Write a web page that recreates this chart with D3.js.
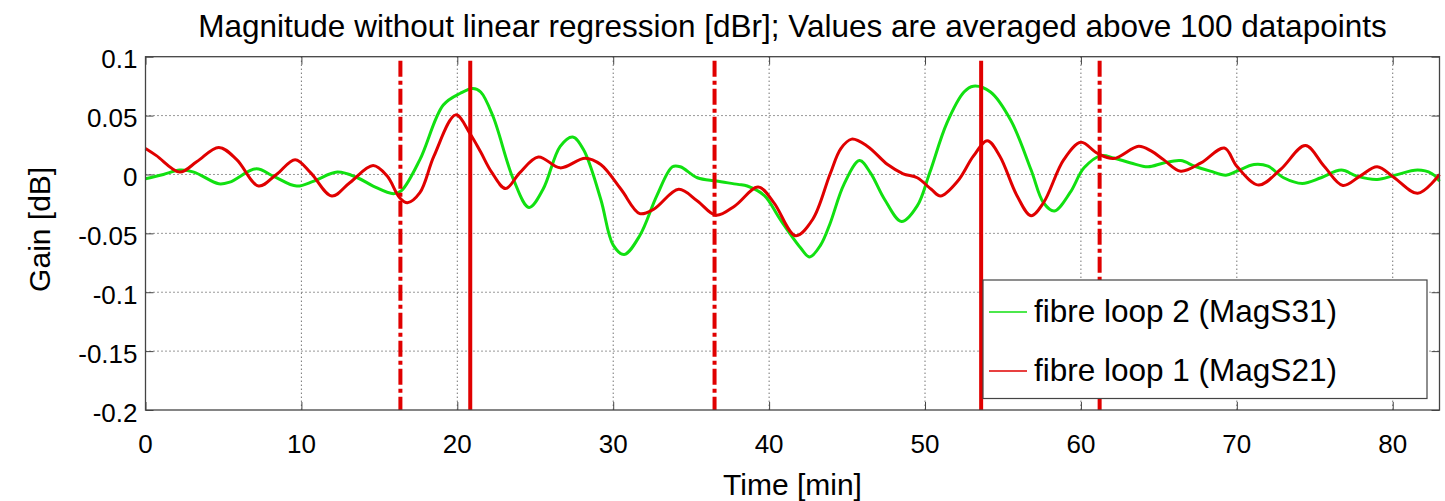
<!DOCTYPE html>
<html>
<head>
<meta charset="utf-8">
<script src="https://cdn.jsdelivr.net/npm/d3@7/dist/d3.min.js"></script>
<style>
body { margin:0; background:#fff; }
text { font-family: 'Liberation Sans', Arial, sans-serif; fill:#000; }
</style>
</head>
<body>
<svg id="chart" width="1445" height="501"></svg>
<script>

// data
var greenTime = [0,1.15,2.2,3.1,4.7,5.4,7.1,8.2,9.7,10.8,12.3,13.6,14.6,15.9,16.4,17.6,19.1,20.2,21.0,21.5,22.3,23.6,24.6,25.5,26.6,27.4,28.1,29.2,30.0,30.7,31.7,32.8,33.8,34.3,35.4,36.6,38.0,38.6,39.7,40.7,42.0,42.6,43.3,43.9,44.8,45.8,46.5,47.4,48.5,49.5,50.3,51.4,52.5,53.1,54.2,55.5,56.8,57.6,58.3,59.3,60.2,61.3,62.1,63.2,64.3,65.3,66.4,67.3,68.3,69.3,70.0,71.1,72.0,73.0,74.2,75.4,76.7,77.7,79.0,80.1,81.6,82.5,83.0];
var greenGain = [-0.0037,0,0.0037,0.002,-0.0079,-0.0065,0.0048,-0.0014,-0.0098,-0.0056,0.002,-0.0028,-0.0098,-0.0163,-0.014,0.0126,0.059,0.069,0.073,0.070,0.049,-0.0042,-0.028,-0.0126,0.0239,0.0318,0.021,-0.021,-0.060,-0.068,-0.052,-0.018,0.0065,0.0065,-0.0028,-0.0056,-0.0084,-0.0098,-0.018,-0.038,-0.062,-0.070,-0.06,-0.042,-0.0084,0.0118,0.0014,-0.021,-0.040,-0.0267,0.0014,0.0436,0.070,0.075,0.070,0.046,0.004,-0.024,-0.031,-0.0155,0.0056,0.016,0.014,0.0098,0.0065,0.0098,0.0118,0.007,0.0028,-0.0006,0.0028,0.0084,0.007,-0.0028,-0.0076,-0.0028,0.0037,-0.0014,-0.0042,-0.0008,0.0037,0.0008,-0.0056];

var redTime = [0,0.7,2.2,3.3,4.7,5.85,7.25,8.4,9.6,10.6,11.95,13.1,14.6,15.5,16.3,16.8,17.6,18.5,19.9,20.8,21.5,22.2,23.1,24.0,25.2,26.6,28.2,29.2,30.5,31.7,32.6,34.2,35.4,36.6,37.8,39.3,40.3,41.7,42.8,43.9,44.6,45.3,46.3,47.6,48.6,49.5,50.4,51.0,52.1,53.1,54.0,54.8,55.9,56.8,57.6,58.9,60.0,61.05,62.1,63.7,64.5,65.3,66.4,67.7,69.2,70.0,71.4,72.8,74.4,75.6,76.8,77.9,79.0,80.1,81.6,83.0];
var redGain = [0.022,0.016,0.002,0.011,0.023,0.0126,-0.0098,0,0.0126,0.0014,-0.0183,-0.007,0.0076,-0.0014,-0.0197,-0.024,-0.0155,0.0155,0.0506,0.035,0.019,0.002,-0.012,0.0014,0.0149,0.0056,0.0138,0.0084,-0.0126,-0.0332,-0.0295,-0.0126,-0.0225,-0.0346,-0.0267,-0.0107,-0.0239,-0.052,-0.038,0,0.022,0.030,0.024,0.0084,0.0006,-0.0028,-0.0126,-0.0183,-0.0056,0.0155,0.0287,0.0155,-0.018,-0.035,-0.024,0.0126,0.0273,0.018,0.0135,0.024,0.02,0.0126,0.0028,0.0098,0.0225,0.007,-0.009,0.0042,0.0245,0.007,-0.0093,-0.0014,0.0065,-0.0028,-0.016,0];

var markersSolid = [20.83, 53.6];
var markersDashed = [16.35, 36.5, 61.2];

var xTicks = [0,10,20,30,40,50,60,70,80];
var yTicks = [-0.2,-0.15,-0.1,-0.05,0,0.05,0.1];
var yTickLabels = ['-0.2','-0.15','-0.1','-0.05','0','0.05','0.1'];

var legendNames = ['fibre loop 2 (MagS31)', 'fibre loop 1 (MagS21)'];

// colors
var colorGreen = '#11e011';
var colorRed = '#e00000';
var colorAxis = '#444';

var svg = d3.select('#chart');

// plot box (window.top is taken, so own names)
var plotLeft = 145.5, plotRight = 1439.5, plotTop = 56.7, plotBottom = 410;

var x = d3.scaleLinear().domain([0,83]).range([plotLeft,plotRight]);
var y = d3.scaleLinear().domain([-0.2,0.1]).range([plotBottom,plotTop]);

// grid
svg.append('g')
   .selectAll('line')
   .data(xTicks.filter(function(d){ return d > 0; }))
   .enter().append('line')
   .attr('x1',function(d){ return x(d); })
   .attr('x2',function(d){ return x(d); })
   .attr('y1',plotTop)
   .attr('y2',plotBottom)
   .attr('stroke','#333')
   .attr('stroke-width',1)
   .attr('stroke-dasharray','1,3');

svg.append('g')
   .selectAll('line')
   .data(yTicks.filter(function(d){ return d > -0.2 && d < 0.1; }))
   .enter().append('line')
   .attr('x1',plotLeft)
   .attr('x2',plotRight)
   .attr('y1',function(d){ return y(d); })
   .attr('y2',function(d){ return y(d); })
   .attr('stroke','#333')
   .attr('stroke-width',1)
   .attr('stroke-dasharray','1,3');

// axes with inward ticks on all four sides
svg.append('g')
   .attr('transform','translate(0,'+plotBottom+')')
   .call(d3.axisTop(x).tickValues(xTicks).tickSize(8).tickFormat(''))
   .call(function(g){ g.select('.domain').remove(); });
svg.append('g')
   .attr('transform','translate(0,'+plotTop+')')
   .call(d3.axisBottom(x).tickValues(xTicks).tickSize(8).tickFormat(''))
   .call(function(g){ g.select('.domain').remove(); });
svg.append('g')
   .attr('transform','translate('+plotLeft+',0)')
   .call(d3.axisRight(y).tickValues(yTicks).tickSize(8).tickFormat(''))
   .call(function(g){ g.select('.domain').remove(); });
svg.append('g')
   .attr('transform','translate('+plotRight+',0)')
   .call(d3.axisLeft(y).tickValues(yTicks).tickSize(8).tickFormat(''))
   .call(function(g){ g.select('.domain').remove(); });
svg.selectAll('.tick line').attr('stroke',colorAxis);

// tick labels
svg.append('g')
   .selectAll('text')
   .data(xTicks)
   .enter().append('text')
   .text(function(d){ return d; })
   .attr('x',function(d){ return x(d); })
   .attr('y',452.5)
   .attr('text-anchor','middle')
   .style('font-size','26px');

svg.append('g')
   .selectAll('text')
   .data(yTicks)
   .enter().append('text')
   .text(function(d,i){ return yTickLabels[i]; })
   .attr('x',137.5)
   .attr('y',function(d){ return y(d)+11.5; })
   .attr('text-anchor','end')
   .style('font-size','26px');

// curves
var lineGreen = d3.line()
                  .x(function(d){ return x(greenTime[d]); })
                  .y(function(d){ return y(greenGain[d]); })
                  .curve(d3.curveCatmullRom.alpha(0.5));
var lineRed = d3.line()
                .x(function(d){ return x(redTime[d]); })
                .y(function(d){ return y(redGain[d]); })
                .curve(d3.curveCatmullRom.alpha(0.5));

svg.append('path')
   .attr('d',lineGreen(d3.range(greenTime.length)))
   .attr('fill','none')
   .attr('stroke',colorGreen)
   .attr('stroke-width',3);

svg.append('path')
   .attr('d',lineRed(d3.range(redTime.length)))
   .attr('fill','none')
   .attr('stroke',colorRed)
   .attr('stroke-width',3);

// event markers
svg.append('g')
   .selectAll('line')
   .data(markersSolid)
   .enter().append('line')
   .attr('x1',function(d){ return x(d); })
   .attr('x2',function(d){ return x(d); })
   .attr('y1',y(0.1)+4)
   .attr('y2',y(-0.2))
   .attr('stroke',colorRed)
   .attr('stroke-width',4);

svg.append('g')
   .selectAll('line')
   .data(markersDashed)
   .enter().append('line')
   .attr('x1',function(d){ return x(d); })
   .attr('x2',function(d){ return x(d); })
   .attr('y1',y(0.1)+4)
   .attr('y2',y(-0.2))
   .attr('stroke',colorRed)
   .attr('stroke-width',4)
   .attr('stroke-dasharray','16,4,4,4');

// box
svg.append('rect')
   .attr('x',plotLeft)
   .attr('y',plotTop)
   .attr('width',plotRight-plotLeft)
   .attr('height',plotBottom-plotTop)
   .attr('fill','none')
   .attr('stroke',colorAxis)
   .attr('stroke-width',1.3);

// legend
var legend = svg.append('g');
legend.append('rect')
      .attr('x',983)
      .attr('y',280)
      .attr('width',444)
      .attr('height',118.5)
      .attr('fill','#fff')
      .attr('stroke',colorAxis)
      .attr('stroke-width',1.2);
var legendColors = [colorGreen, colorRed];
legend.selectAll('.entry')
      .data(legendNames)
      .enter().append('g')
      .attr('class','entry')
      .each(function(d,i){
          var g = d3.select(this);
          var yy = 322 + i*59;
          g.append('line')
           .attr('x1',989).attr('x2',1027)
           .attr('y1',yy-10).attr('y2',yy-10)
           .attr('stroke',legendColors[i])
           .attr('stroke-width',1.5);
          g.append('text')
           .text(d)
           .attr('x',1034)
           .attr('y',yy)
           .style('font-size','31.5px');
      });

// title and axis labels
svg.append('text')
   .text('Magnitude without linear regression [dBr]; Values are averaged above 100 datapoints')
   .attr('x',(plotLeft+plotRight)/2)
   .attr('y',36.5)
   .attr('text-anchor','middle')
   .style('font-size','31.5px');

svg.append('text')
   .text('Time [min]')
   .attr('x',(plotLeft+plotRight)/2)
   .attr('y',495)
   .attr('text-anchor','middle')
   .style('font-size','30px');

svg.append('text')
   .text('Gain [dB]')
   .attr('transform','translate(50,'+((plotTop+plotBottom)/2-4)+') rotate(-90)')
   .attr('text-anchor','middle')
   .style('font-size','30px');

</script>
</body>
</html>
